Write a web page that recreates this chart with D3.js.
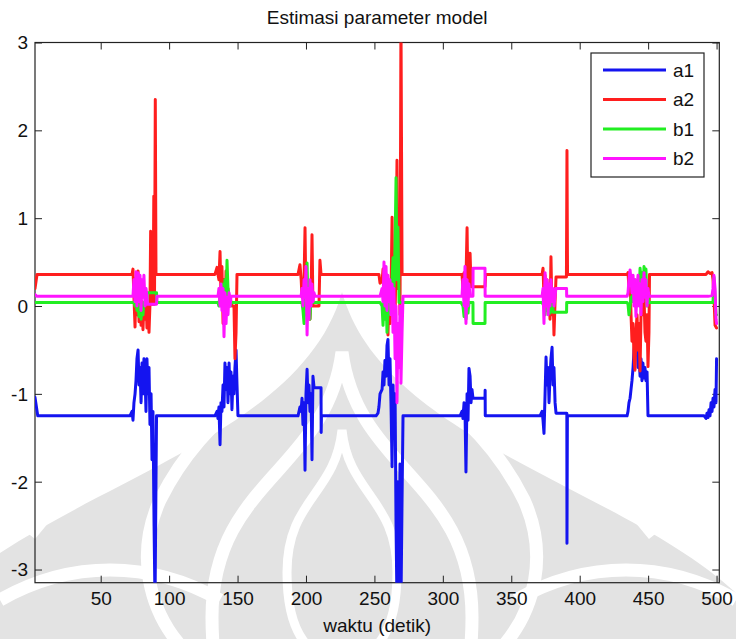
<!DOCTYPE html>
<html>
<head>
<meta charset="utf-8">
<script src="https://cdn.jsdelivr.net/npm/d3@7"></script>
<style>
  body { margin: 0; background: #fff; }
  svg { display: block; }
  text { font-family: "Liberation Sans", Arial, Helvetica, sans-serif; fill: #111; }
</style>
</head>
<body>
<svg id="chart" width="736" height="639"></svg>
<script>
// ---- data: parameter estimates over time, stored as [t, value] vertices ----
const seriesNames = ["a1", "a2", "b1", "b2"];
const seriesColors = ["#1414f0", "#ff1e1e", "#22ee22", "#ff14ff"];
const xTicks = [50, 100, 150, 200, 250, 300, 350, 400, 450, 500];
const yTicks = [-3, -2, -1, 0, 1, 2, 3];
const titleText = "Estimasi parameter model";
const xLabelText = "waktu (detik)";

const a1 = [
  [2,-1.04],[4,-1.25],
  [71.4,-1.25],[72.9,-1.2],[73.6,-1.3],[74.3,-1.1],[75.1,-1.0],[75.8,-0.85],[76.5,-0.6],[77.3,-0.5],[78.0,-0.9],[78.7,-0.7],[79.5,-1.1],[80.2,-0.65],[80.9,-1.0],[81.6,-0.6],[82.4,-0.8],[83.1,-1.2],[83.8,-0.6],[84.6,-1.0],[85.3,-0.7],[86.0,-1.35],[86.8,-1.0],[87.5,-1.75],[88.2,-1.2],[89.0,-2.5],[89.7,-3.4],[90.4,-2.0],[90.8,-1.25],
  [133.5,-1.25],[135.0,-1.2],[135.7,-1.28],[136.4,-1.15],[137.2,-1.58],[137.9,-1.1],[138.6,-1.2],[139.4,-0.9],[140.1,-1.15],[140.8,-0.65],[141.6,-0.95],[142.3,-0.7],[143.0,-1.1],[143.8,-0.65],[144.5,-1.0],[145.2,-0.75],[145.9,-1.18],[146.7,-0.8],[147.4,-1.0],[148.1,-0.7],[148.9,-0.5],[149.6,-0.9],[150.3,-1.25],
  [194.2,-1.25],[195.6,-1.15],[196.4,-1.2],[197.1,-1.05],[197.8,-1.35],[198.6,-1.1],[199.3,-1.87],[200.0,-1.0],[200.8,-0.72],[201.5,-1.1],[202.2,-0.9],[202.9,-1.2],[203.7,-1.0],[204.4,-1.75],[205.1,-0.8],[205.9,-0.93],[211.0,-0.93],[211.1,-1.44],[211.3,-1.25],
  [251.2,-1.25],[252.6,-1.22],[253.3,-1.15],[254.1,-1.0],[255.6,-0.95],[256.3,-0.75],[257.0,-0.9],[257.7,-0.62],[258.5,-0.8],[259.2,-0.45],[259.9,-0.38],[260.7,-0.9],[261.4,-0.6],[262.1,-1.1],[262.9,-1.83],[263.6,-0.9],[264.3,-1.5],[265.1,-1.0],[265.8,-2.5],[266.5,-3.4],[267.2,-2.0],[268.0,-3.4],[268.7,-1.8],[269.4,-3.4],[270.2,-2.2],[270.9,-1.25],
  [312.6,-1.25],[314.0,-1.2],[314.7,-1.28],[315.5,-1.1],[316.2,-1.2],[316.9,-1.89],[317.7,-1.0],[318.4,-1.3],[319.1,-0.71],[319.9,-0.8],[320.6,-1.1],[321.3,-0.95],[322.0,-1.05],[330.8,-1.05],[330.9,-0.96],[331.0,-1.25],
  [371.0,-1.25],[372.5,-1.2],[373.2,-1.3],[373.9,-1.45],[374.7,-1.0],[375.4,-0.58],[376.1,-0.9],[376.9,-0.7],[377.6,-1.1],[378.3,-0.8],[379.0,-0.6],[379.8,-0.47],[380.5,-0.9],[381.2,-0.7],[382.0,-1.1],[382.7,-1.22],[390.6,-1.22],[390.7,-2.7],[391.0,-1.25],
  [433.1,-1.25],[434.6,-1.25],[435.3,-1.2],[436.0,-1.1],[436.8,-1.05],[437.5,-0.95],[438.2,-0.85],[439.0,-0.7],[439.7,-0.5],[440.4,-0.4],[441.1,-0.55],[441.9,-0.45],[442.6,-0.7],[443.3,-0.55],[444.1,-0.8],[444.8,-0.6],[445.5,-0.85],[446.2,-0.65],[447.0,-0.82],[447.7,-0.7],[448.4,-0.85],[449.2,-0.75],[449.9,-1.25],
  [490.9,-1.25],[492.3,-1.28],[493.0,-1.22],[493.8,-1.27],[494.5,-1.18],[495.2,-1.25],[496.0,-1.1],[496.7,-1.2],[497.4,-1.05],[498.1,-1.15],[498.9,-0.95],[499.6,-1.1],[500.0,-0.6]
];

const a2 = [
  [2,0.2],[3.5,0.36],
  [72.9,0.36],[73.6,0.42],[74.3,0.1],[75.1,-0.24],[75.8,0.32],[76.5,-0.1],[77.3,0.4],[78.0,-0.18],[78.7,0.15],[79.5,-0.22],[80.2,0.05],[80.9,-0.27],[81.6,0.02],[82.4,-0.15],[83.1,0.08],[83.8,-0.25],[84.6,0.0],[85.3,-0.3],[86.0,0.02],[86.5,0.85],[87.0,0.02],[88.3,0.02],[88.8,1.25],[89.3,0.02],[89.9,2.35],[90.4,0.36],
  [133.5,0.36],[135.0,0.44],[135.7,0.36],[136.4,0.3],[137.2,0.62],[137.9,0.1],[138.6,0.45],[139.4,-0.2],[140.1,0.3],[140.8,-0.1],[141.6,0.4],[142.3,-0.05],[143.0,0.2],[143.8,0.0],[144.5,0.1],[145.9,0.0],[147.4,0.0],[148.1,-0.6],[148.9,-0.3],[149.6,0.36],
  [194.2,0.36],[195.6,0.47],[196.5,0.3],[197.1,0.1],[198.6,0.3],[199.3,0.89],[200.0,0.0],[200.8,0.25],[201.5,-0.1],[202.2,0.15],[202.9,-0.15],[203.7,0.1],[204.4,0.81],[205.1,0.0],[209.5,0.0],[210.2,0.52],[211.0,0.36],
  [251.9,0.36],[253.3,0.36],[254.1,0.26],[255.6,0.28],[256.3,0.42],[257.0,0.1],[257.7,0.35],[258.5,-0.05],[259.2,0.3],[259.9,-0.33],[260.7,0.2],[261.4,-0.2],[262.1,0.1],[262.9,1.01],[263.6,0.0],[264.3,0.3],[265.1,-0.1],[265.8,0.5],[266.5,1.66],[267.2,0.2],[268.0,0.6],[268.7,-0.1],[269.4,3.3],[270.2,0.36],
  [312.6,0.36],[314.0,0.36],[314.7,0.2],[315.5,0.38],[316.2,0.05],[316.9,0.3],[317.7,0.89],[318.4,0.1],[319.1,0.4],[319.9,0.6],[320.6,0.22],[330.8,0.22],[331.3,0.36],
  [371.0,0.36],[372.5,0.36],[373.2,0.43],[373.9,0.1],[374.7,0.35],[375.4,-0.05],[376.1,0.3],[376.9,0.0],[377.6,0.2],[378.3,-0.15],[379.0,0.56],[379.8,-0.1],[380.5,0.15],[381.2,-0.33],[382.0,0.05],[382.7,0.33],[390.3,0.33],[390.7,1.77],[391.1,0.36],
  [434.6,0.36],[435.3,0.38],[436.0,0.2],[436.8,0.35],[437.5,-0.1],[438.2,-0.4],[439.0,-0.2],[439.7,-0.6],[440.4,-0.73],[441.1,-0.3],[441.9,-0.1],[442.6,-0.5],[443.3,-0.2],[444.1,-0.74],[444.8,-0.1],[445.5,0.2],[446.2,-0.1],[447.0,0.1],[447.7,-0.3],[448.4,-0.4],[449.2,-0.1],[449.9,-0.69],[450.6,-0.3],[451.0,0.36],
  [492.3,0.36],[493.8,0.39],[495.2,0.37],[496.7,0.38],[497.4,0.3],[498.1,0.1],[498.9,-0.22],[500.0,-0.25]
];

const b1 = [
  [2,0.04],
  [74.3,0.04],[75.1,0.0],[75.8,0.04],[76.5,-0.05],[77.3,0.02],[78.0,-0.12],[78.7,0.0],[79.5,-0.15],[80.2,-0.02],[80.9,-0.1],[81.6,0.04],[83.8,0.04],[84.0,0.15],[90.8,0.15],[91.0,0.04],
  [135.7,0.04],[136.4,0.0],[137.2,0.15],[137.9,0.05],[138.6,0.25],[139.4,-0.05],[140.1,0.1],[140.8,0.3],[141.6,0.0],[142.3,0.52],[143.0,0.2],[143.8,0.1],[144.5,0.0],[145.2,0.04],
  [197.1,0.04],[197.8,-0.05],[198.6,-0.2],[199.3,0.1],[200.0,-0.1],[200.8,0.49],[201.5,0.0],[202.2,0.2],[202.9,-0.15],[203.7,0.1],[204.4,0.04],
  [254.1,0.04],[255.6,0.0],[256.3,-0.22],[257.0,0.05],[257.7,-0.15],[258.5,0.1],[259.2,-0.3],[259.9,0.0],[260.7,-0.1],[261.4,0.15],[262.1,0.05],[262.9,0.3],[263.6,0.55],[264.3,0.2],[265.1,0.7],[265.8,1.46],[266.5,0.3],[267.2,0.9],[268.0,0.04],
  [313.3,0.04],[314.7,0.0],[315.5,-0.12],[316.2,0.05],[316.9,-0.15],[317.7,0.0],[318.4,-0.08],[319.1,0.04],[322.0,0.04],[322.1,-0.2],[330.8,-0.2],[330.9,0.04],
  [372.5,0.04],[373.9,0.0],[374.7,-0.1],[375.4,0.05],[376.1,-0.05],[377.6,0.02],[378.3,-0.08],[379.0,0.04],[380.4,0.04],[380.5,-0.07],[390.4,-0.07],[390.5,0.04],
  [434.6,0.04],[435.3,0.02],[436.0,-0.1],[436.8,0.0],[437.5,0.1],[438.2,0.05],[439.0,0.2],[439.7,0.1],[440.4,0.3],[441.1,0.15],[441.9,0.0],[442.6,0.3],[443.3,0.1],[444.1,0.43],[444.8,0.3],[445.5,0.38],[446.2,0.15],[447.0,0.45],[447.7,0.2],[448.4,0.42],[449.2,0.0],[449.9,0.1],[450.6,0.04],
  [493.8,0.04],[497.4,0.04],[498.1,0.33],[498.9,0.1],[499.6,-0.1],[500.0,-0.1]
];

const b2 = [
  [2,0.13],[3.5,0.11],
  [72.9,0.11],[73.6,0.11],[74.3,0.3],[75.1,0.05],[75.8,0.39],[76.5,0.0],[77.3,0.38],[78.0,0.05],[78.7,0.35],[79.5,-0.05],[80.2,0.3],[80.9,0.1],[81.6,0.35],[82.4,0.0],[83.1,0.2],[83.8,0.11],[84.2,0.02],[90.8,0.02],[91.1,0.11],
  [135.7,0.11],[136.4,0.2],[137.2,0.0],[137.9,0.25],[138.6,-0.05],[139.4,0.2],[140.1,-0.35],[140.8,0.15],[141.6,-0.2],[142.3,0.1],[143.0,-0.1],[143.8,0.15],[144.5,0.0],[145.2,0.11],
  [196.4,0.11],[197.1,0.2],[197.8,0.0],[198.6,0.3],[199.3,0.1],[200.0,0.45],[200.8,-0.33],[201.5,0.2],[202.2,-0.15],[202.9,0.3],[203.7,0.0],[204.4,0.25],[205.1,0.05],[205.9,0.15],[206.6,0.11],
  [254.1,0.11],[255.6,0.2],[256.3,0.05],[257.0,0.5],[257.7,0.0],[258.5,0.45],[259.2,-0.05],[259.9,0.35],[260.7,0.05],[261.4,0.3],[262.1,-0.1],[262.9,0.25],[263.6,-0.3],[264.3,0.2],[265.1,-0.6],[265.8,0.0],[266.5,-1.1],[267.2,-0.2],[268.0,-0.7],[268.7,0.0],[269.4,-0.88],[270.2,-0.3],[270.9,0.11],
  [313.3,0.11],[314.0,0.11],[314.7,0.3],[315.5,0.0],[316.2,0.45],[316.9,-0.2],[317.7,0.3],[318.4,0.0],[319.1,0.25],[319.9,0.11],[322.0,0.11],[322.1,0.43],[330.8,0.43],[330.9,0.11],
  [372.5,0.11],[373.2,0.2],[373.9,-0.2],[374.7,0.38],[375.4,0.0],[376.1,0.3],[376.9,-0.1],[377.6,0.25],[378.3,0.0],[379.0,0.3],[379.8,0.05],[380.5,0.2],[381.2,0.0],[382.0,0.11],[382.6,0.2],[390.4,0.2],[390.5,0.11],
  [434.6,0.11],[435.3,0.15],[436.0,0.3],[436.8,0.41],[437.5,0.3],[438.2,0.15],[439.0,0.35],[439.7,0.0],[440.4,0.3],[441.1,-0.12],[441.9,0.2],[442.6,0.35],[443.3,0.0],[444.1,0.25],[444.8,-0.1],[445.5,0.3],[446.2,0.05],[447.0,0.38],[447.7,0.1],[448.4,0.3],[449.2,0.0],[449.9,0.2],[450.6,0.11],
  [493.8,0.11],[496.7,0.12],[497.4,0.2],[498.1,0.35],[498.9,0.2],[499.6,-0.15],[500.0,-0.2]
];

const seriesData = [a1, a2, b1, b2];

// ---- layout ----
const W = 736, H = 639;
const plot = { left: 35, right: 719.3, top: 42.5, bottom: 582.7 };

const svg = d3.select("#chart");
svg.append("rect").attr("width", W).attr("height", H).attr("fill", "#fff");

// faint emblem watermark behind the figure
function dome(cx, ty, w, by) {
  const h = by - ty;
  return `M${cx},${ty}` +
    `C${cx - w * 0.12},${ty + h * 0.28} ${cx - w},${ty + h * 0.30} ${cx - w},${ty + h * 0.62}` +
    `C${cx - w},${ty + h * 0.9} ${cx - w * 0.55},${by} ${cx},${by}` +
    `C${cx + w * 0.55},${by} ${cx + w},${ty + h * 0.9} ${cx + w},${ty + h * 0.62}` +
    `C${cx + w},${ty + h * 0.30} ${cx + w * 0.12},${ty + h * 0.28} ${cx},${ty}Z`;
}
const wm = svg.append("g").attr("class", "watermark");
wm.append("path").attr("d", dome(342, 292, 460, 1000)).attr("fill", "#e3e3e3");
[[342, 352, 130, 780, 13], [342, 430, 55, 660, 9]]
  .forEach(([cx, ty, w, by, sw]) => {
    wm.append("path").attr("d", dome(cx, ty, w, by))
      .attr("fill", "none").attr("stroke", "#fff").attr("stroke-width", sw);
  });
[
  "M215,360 C150,395 95,455 30,535",
  "M285,372 C235,400 190,440 160,500 C135,555 150,610 180,645",
  "M469,360 C534,395 589,455 654,535",
  "M399,372 C449,400 494,440 524,500 C549,555 534,610 504,645",
  "M0,600 C70,560 150,560 220,600",
  "M736,600 C666,560 586,560 516,600"
].forEach(d => wm.append("path").attr("d", d).attr("fill", "none")
  .attr("stroke", "#fff").attr("stroke-width", 13));

// ---- scales ----
const x = d3.scaleLinear().domain([2, 502]).range([plot.left, plot.right]);
const y = d3.scaleLinear().domain([-3.15, 3]).range([plot.bottom, plot.top]);

// ---- axes (ticks point inward on all four sides) ----
const tickLen = 7;
const fontSize = 19;
const plainNum = d => String(d);

const gx = svg.append("g").attr("transform", `translate(0,${plot.bottom})`)
  .call(d3.axisBottom(x).tickValues(xTicks).tickFormat(plainNum)
    .tickSizeInner(-tickLen).tickSizeOuter(0).tickPadding(9));
const gxt = svg.append("g").attr("transform", `translate(0,${plot.top})`)
  .call(d3.axisTop(x).tickValues(xTicks).tickSizeInner(-tickLen).tickSizeOuter(0).tickFormat(""));
const gy = svg.append("g").attr("transform", `translate(${plot.left},0)`)
  .call(d3.axisLeft(y).tickValues(yTicks).tickFormat(plainNum)
    .tickSizeInner(-tickLen).tickSizeOuter(0).tickPadding(7));
const gyr = svg.append("g").attr("transform", `translate(${plot.right},0)`)
  .call(d3.axisRight(y).tickValues(yTicks).tickSizeInner(-tickLen).tickSizeOuter(0).tickFormat(""));

[gx, gxt, gy, gyr].forEach(g => {
  g.selectAll(".domain").remove();
  g.selectAll(".tick line").attr("stroke", "#222").attr("stroke-width", 1);
  g.selectAll("text").attr("font-size", fontSize).attr("font-family", null).attr("fill", "#111");
});
gy.selectAll("text").attr("dy", "0.34em");

svg.append("rect")
  .attr("x", plot.left).attr("y", plot.top)
  .attr("width", plot.right - plot.left).attr("height", plot.bottom - plot.top)
  .attr("fill", "none").attr("stroke", "#222").attr("stroke-width", 1.2);

// ---- series lines ----
svg.append("clipPath").attr("id", "plot-clip")
  .append("rect")
  .attr("x", plot.left).attr("y", plot.top)
  .attr("width", plot.right - plot.left).attr("height", plot.bottom - plot.top);

const line = d3.line().x(d => x(d[0])).y(d => y(d[1]));
svg.append("g").attr("clip-path", "url(#plot-clip)")
  .selectAll("path").data(seriesData).join("path")
  .attr("d", line)
  .attr("fill", "none")
  .attr("stroke", (d, i) => seriesColors[i])
  .attr("stroke-width", 3)
  .attr("stroke-linejoin", "round")
  .attr("stroke-linecap", "round");

// ---- title and axis label ----
svg.append("text").attr("x", (plot.left + plot.right) / 2).attr("y", 24)
  .attr("text-anchor", "middle").attr("font-size", fontSize).text(titleText);
svg.append("text").attr("x", (plot.left + plot.right) / 2).attr("y", 632)
  .attr("text-anchor", "middle").attr("font-size", fontSize).text(xLabelText);

// ---- legend ----
const legend = { x: 591, y: 53, w: 113, h: 124, rowY0: 70, rowStep: 29.5 };
const lg = svg.append("g");
lg.append("rect").attr("x", legend.x).attr("y", legend.y)
  .attr("width", legend.w).attr("height", legend.h)
  .attr("fill", "#fff").attr("stroke", "#222").attr("stroke-width", 1.2);
seriesNames.forEach((name, i) => {
  const ry = legend.rowY0 + i * legend.rowStep;
  lg.append("line").attr("x1", 603).attr("x2", 666).attr("y1", ry).attr("y2", ry)
    .attr("stroke", seriesColors[i]).attr("stroke-width", 3);
  lg.append("text").attr("x", 673).attr("y", ry).attr("dy", "0.35em")
    .attr("font-size", fontSize).text(name);
});
</script>
</body>
</html>
